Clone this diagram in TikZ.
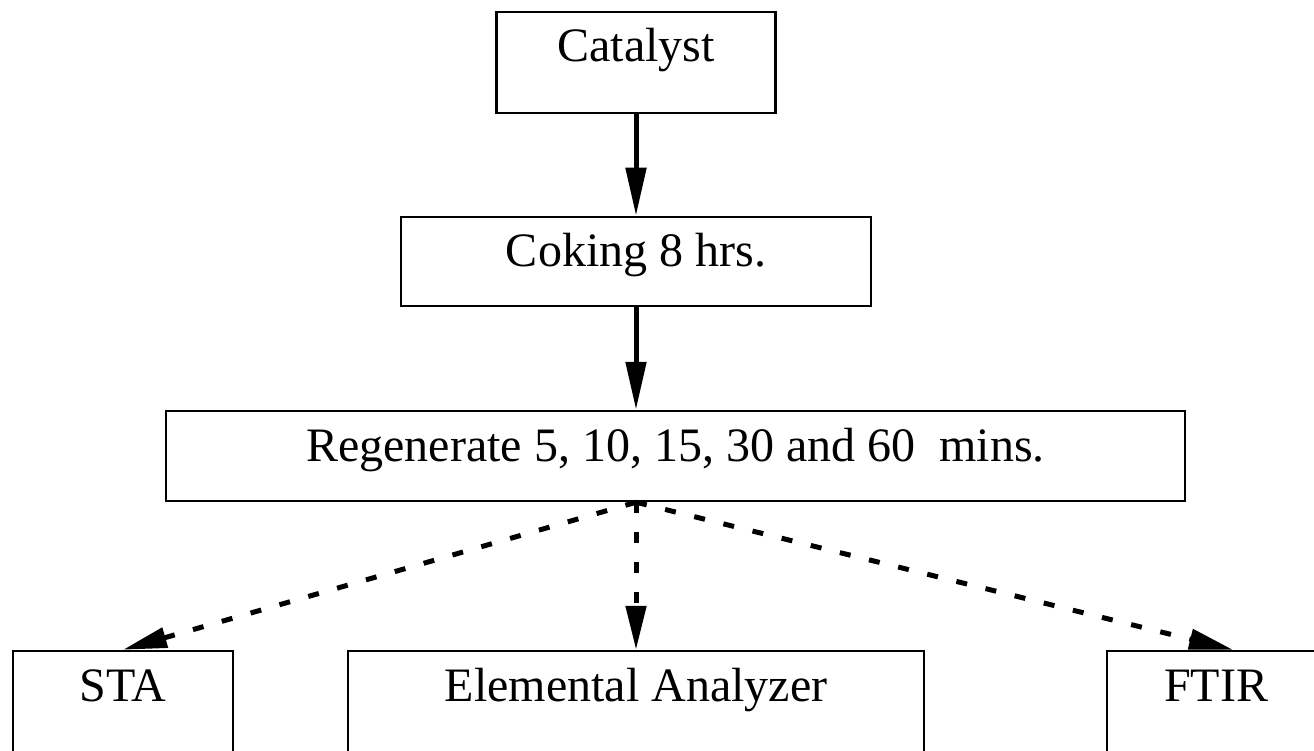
\documentclass[tikz,border=0pt]{standalone}
\usepackage{fontspec}
\setmainfont{Liberation Serif}
\usetikzlibrary{arrows.meta}
\tikzset{
  box/.style={draw, line width=2.5pt, inner sep=0pt, rectangle,
    font=\fontsize{48}{56}\selectfont, text height=35pt, text depth=25pt},
  solidarrow/.style={line width=5pt, -{Triangle[length=48pt,width=20pt]}},
  dasharrow/.style={line width=5pt, dash pattern=on 11pt off 19pt,
    -{Triangle[length=44pt,width=20pt]}}
}
\begin{document}
\begin{tikzpicture}[x=1pt,y=-1pt]
\clip (0,0) rectangle (1314,751);
\fill[white] (0,0) rectangle (1314,751);
\node[box, minimum width=279pt, minimum height=101pt, text height=30pt, text depth=31pt] (cat) at (636,62.5) {Catalyst};
\node[box, minimum width=470pt, minimum height=89pt] (cok) at (636,261.5) {Coking 8 hrs.};
\node[box, minimum width=1019pt, minimum height=90pt] (regen) at (675.5,456) {Regenerate 5, 10, 15, 30 and 60\ \ mins.};
\node[box, minimum width=220pt, minimum height=109pt, text height=33pt, text depth=42pt] (sta) at (123,705.5) {STA};
\node[box, minimum width=576pt, minimum height=109pt, text height=33pt, text depth=42pt] (ea) at (636,705.5) {Elemental Analyzer};
\node[box, minimum width=218pt, minimum height=109pt, text height=33pt, text depth=42pt] (ftir) at (1216,705.5) {FTIR};
\coordinate (src) at (cok.south |- regen.south);
\draw[solidarrow] (cat.south) -- (cok.north);
\draw[solidarrow] (cok.south) -- (cok.south |- regen.north);
\draw[dasharrow] (src) -- (sta.north);
\draw[dasharrow] (src) -- (ea.north);
\draw[dasharrow] (src) -- ([xshift=17pt]ftir.north);
\end{tikzpicture}
\end{document}
